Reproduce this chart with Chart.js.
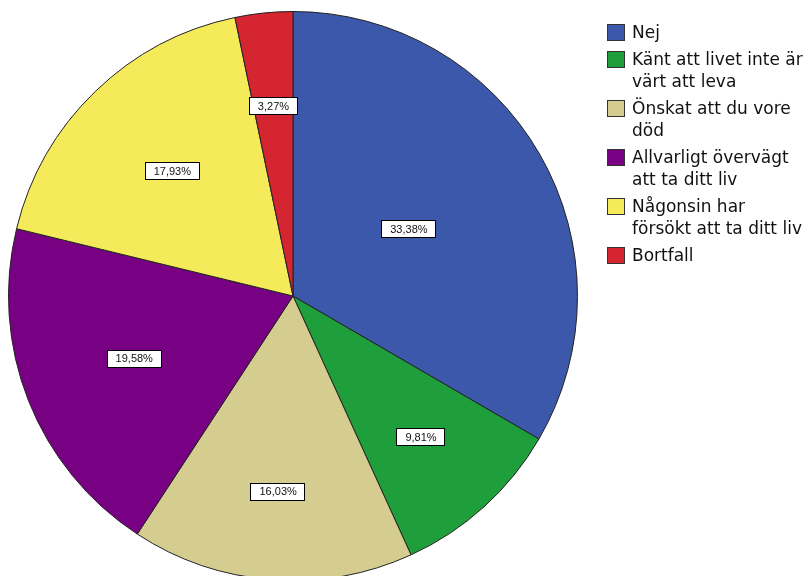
<!DOCTYPE html>
<html><head><meta charset="utf-8">
<script src="https://cdn.jsdelivr.net/npm/chart.js@4.4.1/dist/chart.umd.min.js"></script>
<style>
html,body{margin:0;padding:0;background:#fff;overflow:hidden;width:812px;height:576px;}
#wrap{position:absolute;left:0;top:0;width:812px;height:590px;}
#legend{position:absolute;left:607px;top:21px;font-family:"DejaVu Sans",sans-serif;font-size:17px;line-height:22px;color:#111;}
.item{position:relative;padding-left:25px;margin-bottom:5px;white-space:nowrap;}
.box{position:absolute;left:0;top:3px;width:18px;height:17px;border:1px solid #333;box-sizing:border-box;}
</style></head>
<body>
<div id="wrap"><canvas id="c" width="812" height="590"></canvas></div>
<div id="legend"></div>
<script>
const categories = ["Nej", "Känt att livet inte är värt att leva", "Önskat att du vore död", "Allvarligt övervägt att ta ditt liv", "Någonsin har försökt att ta ditt liv", "Bortfall"];
const legendLines = [["Nej"], ["Känt att livet inte är", "värt att leva"], ["Önskat att du vore", "död"], ["Allvarligt övervägt", "att ta ditt liv"], ["Någonsin har", "försökt att ta ditt liv"], ["Bortfall"]];
const values = [33.38, 9.81, 16.03, 19.58, 17.93, 3.27];
const colors = ["#3b58ab", "#1f9e3c", "#d4cd8f", "#780082", "#f5ea5a", "#d42530"];

const leg = document.getElementById('legend');
legendLines.forEach((lines, i) => {
  const d = document.createElement('div'); d.className = 'item';
  const b = document.createElement('div'); b.className = 'box'; b.style.background = colors[i];
  d.appendChild(b);
  lines.forEach((t) => { const s = document.createElement('div'); s.textContent = t; d.appendChild(s); });
  leg.appendChild(d);
});

const labelPlugin = {
  id: 'boxLabels',
  afterDatasetsDraw(chart) {
    const ctx = chart.ctx;
    const meta = chart.getDatasetMeta(0);
    const rf = chart.options.plugins.boxLabels.radiusFactors;
    ctx.save();
    ctx.font = '11px "Liberation Sans", Arial, sans-serif';
    ctx.textAlign = 'center'; ctx.textBaseline = 'middle';
    meta.data.forEach((arc, i) => {
      const p = arc.getProps(['x','y','startAngle','endAngle','outerRadius']);
      const mid = (p.startAngle + p.endAngle) / 2;
      const r = p.outerRadius * rf[i];
      const x = p.x + Math.cos(mid) * r, y = p.y + Math.sin(mid) * r;
      const txt = values[i].toFixed(2).replace('.', ',') + '%';
      const w = ctx.measureText(txt).width + 18, h = 18;
      ctx.fillStyle = '#fff';
      ctx.fillRect(Math.round(x - w/2), Math.round(y - h/2), Math.round(w), h);
      ctx.strokeStyle = '#000'; ctx.lineWidth = 1;
      ctx.strokeRect(Math.round(x - w/2) + 0.5, Math.round(y - h/2) + 0.5, Math.round(w) - 1, h - 1);
      ctx.fillStyle = '#111';
      ctx.fillText(txt, x, y + 0.5);
    });
    ctx.restore();
  }
};

new Chart(document.getElementById('c'), {
  type: 'pie',
  data: { labels: categories, datasets: [{ data: values, backgroundColor: colors, borderColor: '#222', borderWidth: 1 }] },
  options: {
    responsive: false, animation: false,
    layout: { padding: { left: 8, top: 11, right: 234, bottom: 9 } },
    plugins: { legend: { display: false }, tooltip: { enabled: false },
      boxLabels: { radiusFactors: [0.47, 0.67, 0.69, 0.6, 0.61, 0.67] } }
  },
  plugins: [labelPlugin]
});
</script>
</body></html>
